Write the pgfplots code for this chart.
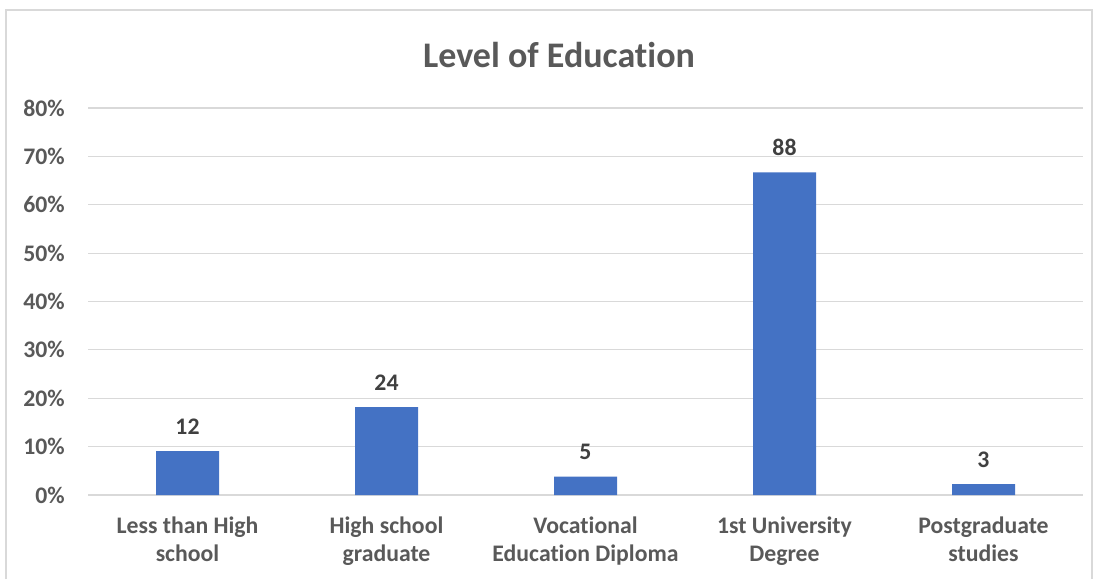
\documentclass[border=0pt]{standalone}
\usepackage{fontspec}
\setmainfont{Carlito}[Ligatures=NoCommon]
\usepackage{pgfplots}
\pgfplotsset{compat=1.18}
\definecolor{barblue}{HTML}{4472C4}
\definecolor{gridgray}{HTML}{D9D9D9}
\definecolor{labelgray}{HTML}{595959}
\definecolor{datagray}{HTML}{404040}
\begin{document}
\begin{tikzpicture}
\path[use as bounding box] (0pt,0pt) rectangle (823.5pt,434.25pt);
\draw[gridgray, line width=1.5pt] (4.5pt,0pt) -- (4.5pt,426.75pt) -- (819pt,426.75pt) -- (819pt,0pt);
\node[font=\bfseries\fontsize{27}{32}\selectfont, text=labelgray] at (419.25pt,393pt) {Level of Education};
\begin{axis}[
    at={(66pt,63pt)}, anchor=south west,
    scale only axis, width=746.25pt, height=290.25pt,
    xmin=-0.5, xmax=4.5, ymin=0, ymax=80,
    ytick={0,10,...,80},
    yticklabel={\pgfmathprintnumber{\tick}\%},
    xtick={0,1,2,3,4},
    xticklabels={Less than High\\school, High school\\graduate, Vocational\\Education Diploma, 1st University\\Degree, Postgraduate\\studies},
    ymajorgrids, grid style={gridgray, line width=0.9pt},
    axis line style={draw=none}, tick style={draw=none},
    ticklabel style={font=\bfseries\fontsize{17.8}{21}\selectfont, text=labelgray},
    /pgf/number format/assume math mode=true,
    xticklabel style={align=center, yshift=-13pt},
    yticklabel style={xshift=-14pt},
    nodes near coords, point meta=explicit symbolic,
    nodes near coords style={font=\bfseries\fontsize{17.8}{21}\selectfont, text=datagray, yshift=9pt},
    clip=false]
  \addplot[ybar, bar width=47.25pt, fill=barblue, draw=none] coordinates {
    (0,9.09) [12]
    (1,18.18) [24]
    (2,3.79) [5]
    (3,66.67) [88]
    (4,2.27) [3]
  };
\end{axis}
\end{tikzpicture}
\end{document}
